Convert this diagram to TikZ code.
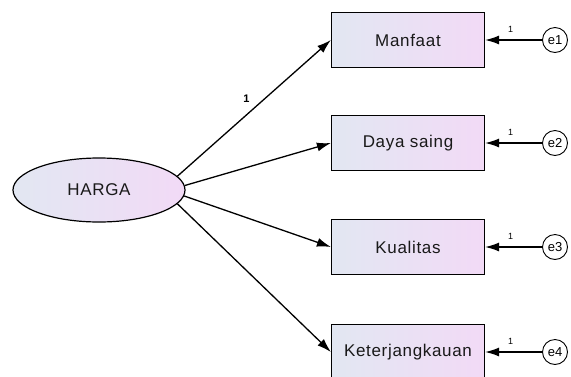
\documentclass[tikz,border=0pt]{standalone}
\usepackage{fontspec}
\setmainfont{Liberation Sans}
\usepackage{tikz}
\usetikzlibrary{arrows.meta}
\usetikzlibrary{shapes.geometric}
\definecolor{fillL}{RGB}{226,231,242}
\definecolor{fillR}{RGB}{242,218,246}

\begin{document}
\begin{tikzpicture}[x=1pt,y=-1pt]
    \tikzstyle{big} = [font=\fontsize{17}{17}\selectfont\addfontfeatures{LetterSpace=4}]
    \tikzstyle{obs} = [draw,line width=1.2pt,minimum width=153pt,minimum height=55pt,
      left color=fillL,right color=fillR,big,text=black!90]
    \tikzstyle{lat} = [draw,ellipse,line width=1.2pt,minimum width=172pt,minimum height=64pt,
      left color=fillL,right color=fillR,big,text=black!90]
    \tikzstyle{err} = [draw,circle,line width=0.9pt,minimum size=25pt,inner sep=0pt,
      fill=white,font=\fontsize{13}{13}\selectfont]
    \tikzstyle{path} = [draw,line width=1.3pt,-{Latex[length=14pt,width=9pt]}]
    \tikzstyle{w} = [font=\bfseries\fontsize{11}{11}\selectfont,inner sep=1pt]
    \tikzstyle{ws} = [font=\fontsize{9}{9}\selectfont,inner sep=1pt]
    \useasboundingbox (0,0) rectangle (571,376);
    %%
    \node [lat] (harga) at (99,190) {HARGA};
    %%
    \node [obs] (manfaat) at (408,40) {Manfaat};
    \node [obs] (daya) at (408,143) {Daya saing};
    \node [obs] (kualitas) at (408,247) {Kualitas};
    \node [obs] (keterj) at (408,352) {Keterjangkauan};
    %%
    \node [err] (e1) at (555,40) {e1};
    \node [err] (e2) at (555,143) {e2};
    \node [err] (e3) at (555,247) {e3};
    \node [err] (e4) at (555,352) {e4};
    %%
    \path [path] (harga.10) to node [w,pos=.45,above=11pt] {1} (manfaat.west);
    \path [path] (harga.3) to (daya.west);
    \path [path] (harga.-4) to (kualitas.west);
    \path [path] (harga.-10) to (keterj.west);
    %%
    \path [path] (e1) to node [ws,pos=.55,above=6pt] {1} (manfaat);
    \path [path] (e2) to node [ws,pos=.55,above=6pt] {1} (daya);
    \path [path] (e3) to node [ws,pos=.55,above=6pt] {1} (kualitas);
    \path [path] (e4) to node [ws,pos=.55,above=6pt] {1} (keterj);
  \end{tikzpicture}
\end{document}
